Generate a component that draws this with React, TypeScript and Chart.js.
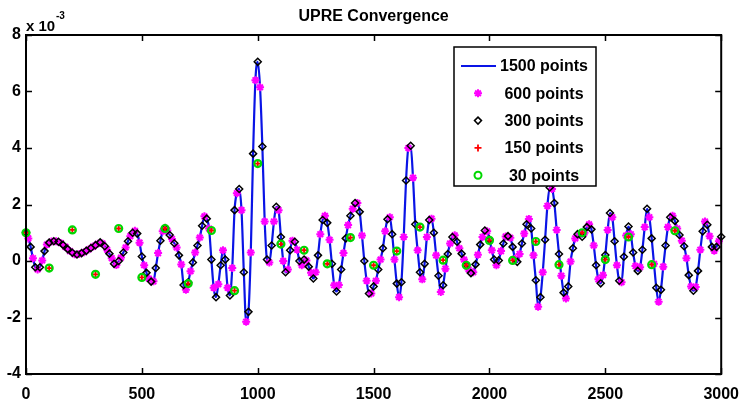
import React, { useEffect, useRef } from "react";
import { Chart, registerables } from "chart.js";

Chart.register(...registerables);

// ---------- data ----------
const TITLE = "UPRE Convergence";
const SERIES_LABELS = ["1500 points", "600 points", "300 points", "150 points", "30 points"];
const X_TICKS = [0, 500, 1000, 1500, 2000, 2500, 3000];
const Y_TICKS = [-4, -2, 0, 2, 4, 6, 8];
const Y_EXP = "-3";

// fine reconstruction, sampled every 10 units on 0..3000 (values x 1e-3)
const FINE_STEP = 10;
const fineY = [
  1.0, 0.8, 0.5, 0.1, -0.22, -0.3, -0.22, 0.02, 0.35, 0.58,
  0.65, 0.69, 0.7, 0.7, 0.68, 0.64, 0.57, 0.5, 0.42, 0.35,
  0.29, 0.24, 0.23, 0.25, 0.28, 0.31, 0.36, 0.41, 0.46, 0.51,
  0.56, 0.61, 0.66, 0.62, 0.52, 0.4, 0.26, 0.1, -0.1, -0.14,
  0.0, 0.12, 0.3, 0.48, 0.7, 0.88, 1.0, 1.07, 0.97, 0.65,
  0.16, -0.15, -0.42, -0.62, -0.73, -0.72, -0.25, 0.28, 0.72, 1.05,
  1.17, 1.08, 0.92, 0.78, 0.63, 0.48, 0.2, -0.12, -0.85, -1.02,
  -0.75, -0.36, -0.05, 0.3, 0.55, 0.83, 1.25, 1.58, 1.5, 1.15,
  0.05, -0.95, -1.28, -0.82, -0.15, 0.38, 0.05, -0.95, -1.22, -0.25,
  1.8, 2.4, 2.55, 1.8, -0.4, -2.15, -1.8, 0.3, 3.8, 6.4,
  7.05, 6.15, 4.05, 1.4, 0.05, -0.05, 0.55, 1.4, 1.92, 1.8,
  0.85, 0.0, -0.4, -0.3, 0.38, 0.72, 0.68, 0.4, 0.0, -0.15,
  0.05, 0.02, -0.2, -0.42, -0.62, -0.4, 0.2, 0.95, 1.45, 1.6,
  1.35, 0.75, -0.1, -0.86, -1.08, -0.85, -0.3, 0.28, 0.8, 1.27,
  1.6, 1.85, 2.05, 2.05, 1.74, 0.9, 0.0, -0.7, -1.15, -1.15,
  -0.9, -0.7, -0.3, 0.05, 0.45, 1.05, 1.48, 1.55, 0.95, 0.05,
  -0.8, -1.28, -0.75, 0.85, 2.85, 4.0, 4.08, 2.95, 1.3, 0.38,
  -0.4, -0.65, -0.1, 0.85, 1.45, 1.5, 1.0, 0.2, -0.52, -1.1,
  -0.86, -0.27, 0.25, 0.62, 0.85, 0.91, 0.68, 0.45, 0.26, 0.05,
  -0.14, -0.3, -0.43, -0.4, -0.12, 0.22, 0.58, 0.85, 1.08, 1.05,
  0.76, 0.38, 0.05, -0.15, 0.02, 0.35, 0.62, 0.87, 0.88, 0.82,
  0.5, 0.08, -0.03, 0.25, 0.62, 0.97, 1.3, 1.49, 1.15, 0.2,
  -0.68, -1.62, -1.28, -0.4, 0.75, 1.95, 2.6, 2.55, 2.05, 1.1,
  0.25, -0.52, -1.12, -1.33, -0.9, -0.02, 0.45, 0.8, 0.95, 0.96,
  0.86, 1.0, 1.2, 1.3, 1.12, 0.55, -0.15, -0.65, -0.79, -0.5,
  0.21, 1.1, 1.7, 1.55, 0.7, -0.15, -0.7, -0.75, 0.15, 0.9,
  1.22, 0.95, 0.3, -0.18, -0.35, -0.22, 0.4, 1.2, 1.85, 1.55,
  0.8, -0.1, -0.95, -1.44, -1.02, -0.2, 0.55, 1.2, 1.55, 1.6,
  1.42, 1.15, 0.92, 0.72, 0.52, 0.1, -0.5, -0.9, -1.05, -0.92,
  -0.35, 0.4, 1.05, 1.4, 1.28, 0.88, 0.5, 0.36, 0.5, 0.7,
  0.86,
];

// coarse reconstruction (30-point / 150-point markers)
const coarseX = [
  0, 100, 200, 300, 400, 500, 600, 700, 800, 900,
  1000, 1100, 1200, 1300, 1400, 1500, 1600, 1700, 1800, 1900,
  2000, 2100, 2200, 2300, 2400, 2500, 2600, 2700, 2800,
];
const coarseY = [
  1.0, -0.25, 1.1, -0.47, 1.15, -0.58, 1.15, -0.8, 1.08, -1.05,
  3.45, 0.6, 0.38, -0.1, 0.83, -0.15, 0.35, 1.2, 0.03, -0.15,
  0.73, 0.02, 0.69, -0.13, 1.0, 0.05, 0.85, -0.13, 1.07,
];

// ---------- styling ----------
const FONT = "'Liberation Sans', Arial, Helvetica, sans-serif";
const BLUE = "rgb(10,20,230)";
const MAGENTA = "rgb(255,0,255)";
const BLACK = "#000000";
const RED = "rgb(255,0,0)";
const GREEN = "rgb(0,215,0)";

const finePts = fineY.map((y, i) => ({ x: i * FINE_STEP, y }));
const starPts = finePts.filter((_, i) => i % 2 === 1);
const diamondPts = finePts.filter((_, i) => i % 2 === 0);
const coarsePts = coarseX.map((x, i) => ({ x, y: coarseY[i] }));

function drawMarker(ctx: CanvasRenderingContext2D, kind: string, x: number, y: number) {
  ctx.save();
  if (kind === "star") {
    ctx.strokeStyle = MAGENTA;
    ctx.lineWidth = 2;
    const r = 4;
    ctx.beginPath();
    ctx.moveTo(x - r, y); ctx.lineTo(x + r, y);
    ctx.moveTo(x, y - r); ctx.lineTo(x, y + r);
    const d = r * 0.707;
    ctx.moveTo(x - d, y - d); ctx.lineTo(x + d, y + d);
    ctx.moveTo(x - d, y + d); ctx.lineTo(x + d, y - d);
    ctx.stroke();
  } else if (kind === "diamond") {
    ctx.strokeStyle = BLACK;
    ctx.lineWidth = 1.5;
    const r = 3.5;
    ctx.beginPath();
    ctx.moveTo(x, y - r); ctx.lineTo(x + r, y); ctx.lineTo(x, y + r); ctx.lineTo(x - r, y);
    ctx.closePath();
    ctx.stroke();
  } else if (kind === "plus") {
    ctx.strokeStyle = RED;
    ctx.lineWidth = 1.8;
    const r = 3.5;
    ctx.beginPath();
    ctx.moveTo(x - r, y); ctx.lineTo(x + r, y);
    ctx.moveTo(x, y - r); ctx.lineTo(x, y + r);
    ctx.stroke();
  } else if (kind === "circle") {
    ctx.strokeStyle = GREEN;
    ctx.lineWidth = 2;
    ctx.beginPath();
    ctx.arc(x, y, 3.5, 0, Math.PI * 2);
    ctx.stroke();
  }
  ctx.restore();
}

const decorPlugin = {
  id: "matlabDecor",
  afterDatasetsDraw(chart: any) {
    const { ctx, chartArea: a, scales } = chart;
    ctx.save();
    // axes box
    ctx.strokeStyle = BLACK;
    ctx.lineWidth = 2;
    ctx.strokeRect(a.left, a.top, a.right - a.left, a.bottom - a.top);
    // inward tick marks
    ctx.lineWidth = 1.5;
    ctx.beginPath();
    for (const v of X_TICKS) {
      const px = Math.round(scales.x.getPixelForValue(v)) + 0.5;
      ctx.moveTo(px, a.top); ctx.lineTo(px, a.top + 6);
      ctx.moveTo(px, a.bottom); ctx.lineTo(px, a.bottom - 6);
    }
    for (const v of Y_TICKS) {
      const py = Math.round(scales.y.getPixelForValue(v)) + 0.5;
      ctx.moveTo(a.left, py); ctx.lineTo(a.left + 6, py);
      ctx.moveTo(a.right, py); ctx.lineTo(a.right - 6, py);
    }
    ctx.stroke();

    // title
    ctx.fillStyle = BLACK;
    ctx.font = `bold 16px ${FONT}`;
    ctx.textAlign = "center";
    ctx.textBaseline = "alphabetic";
    ctx.fillText(TITLE, (a.left + a.right) / 2, 21);

    // exponent label
    ctx.textAlign = "left";
    ctx.font = `bold 15px ${FONT}`;
    ctx.fillText("x 10", a.left, 31);
    ctx.font = `bold 10px ${FONT}`;
    ctx.fillText(Y_EXP, a.left + 30, 19);

    // legend box
    const lx = 454, ly = 47, lw = 142, lh = 139;
    ctx.fillStyle = "#ffffff";
    ctx.fillRect(lx, ly, lw, lh);
    ctx.strokeStyle = BLACK;
    ctx.lineWidth = 1.5;
    ctx.strokeRect(lx, ly, lw, lh);
    const kinds = ["line", "star", "diamond", "plus", "circle"];
    ctx.font = `bold 16px ${FONT}`;
    ctx.textAlign = "center";
    ctx.textBaseline = "middle";
    SERIES_LABELS.forEach((label, i) => {
      const cy = ly + 19 + i * 27.3;
      const k = kinds[i];
      if (k === "line") {
        ctx.strokeStyle = BLUE;
        ctx.lineWidth = 2;
        ctx.beginPath();
        ctx.moveTo(lx + 7, cy); ctx.lineTo(lx + 42, cy);
        ctx.stroke();
      } else {
        drawMarker(ctx, k, lx + 24, cy);
      }
      ctx.fillStyle = BLACK;
      ctx.fillText(label, lx + 90, cy + 1);
    });
    ctx.restore();
  },
};

export default function App() {
  const ref = useRef<HTMLCanvasElement | null>(null);

  useEffect(() => {
    document.body.style.margin = "0";
    const canvas = ref.current;
    if (!canvas) return;
    const tickFont = { family: FONT, size: 16, weight: "bold" as const };
    const chart = new Chart(canvas, {
      type: "line",
      data: {
        datasets: [
          {
            label: SERIES_LABELS[0],
            data: finePts,
            borderColor: BLUE,
            borderWidth: 2.2,
            pointRadius: 0,
            cubicInterpolationMode: "monotone",
            fill: false,
            order: 5,
          },
          {
            label: SERIES_LABELS[1],
            data: starPts,
            showLine: false,
            pointStyle: "star",
            pointRadius: 4,
            pointBorderWidth: 2,
            pointBorderColor: MAGENTA,
            pointBackgroundColor: MAGENTA,
            borderColor: MAGENTA,
            clip: false,
            order: 4,
          },
          {
            label: SERIES_LABELS[2],
            data: diamondPts,
            showLine: false,
            pointStyle: "rectRot",
            pointRadius: 3.5,
            pointBorderWidth: 1.5,
            pointBorderColor: BLACK,
            pointBackgroundColor: "rgba(0,0,0,0)",
            borderColor: BLACK,
            clip: false,
            order: 3,
          },
          {
            label: SERIES_LABELS[3],
            data: coarsePts,
            showLine: false,
            pointStyle: "cross",
            pointRadius: 3,
            pointBorderWidth: 1.8,
            pointBorderColor: RED,
            borderColor: RED,
            clip: false,
            order: 2,
          },
          {
            label: SERIES_LABELS[4],
            data: coarsePts,
            showLine: false,
            pointStyle: "circle",
            pointRadius: 3.5,
            pointBorderWidth: 2.2,
            pointBorderColor: GREEN,
            pointBackgroundColor: "rgba(0,0,0,0)",
            borderColor: GREEN,
            clip: false,
            order: 1,
          },
        ],
      },
      options: {
        responsive: false,
        animation: false,
        devicePixelRatio: 1,
        layout: { padding: { top: 35, right: 20, left: 0, bottom: 0 } },
        plugins: {
          legend: { display: false },
          title: { display: false },
          tooltip: { enabled: false },
        },
        scales: {
          x: {
            type: "linear",
            min: 0,
            max: 3000,
            afterBuildTicks: (s: any) => {
              s.ticks = X_TICKS.map((v) => ({ value: v }));
            },
            afterFit: (s: any) => {
              s.height = 26;
            },
            grid: { display: false, drawTicks: false },
            border: { display: false },
            ticks: {
              font: tickFont,
              color: BLACK,
              padding: 11,
              maxRotation: 0,
              autoSkip: false,
              callback: (v: any) => String(v),
            },
          },
          y: {
            type: "linear",
            min: -4,
            max: 8,
            afterBuildTicks: (s: any) => {
              s.ticks = Y_TICKS.map((v) => ({ value: v }));
            },
            afterFit: (s: any) => {
              s.width = 26;
            },
            grid: { display: false, drawTicks: false },
            border: { display: false },
            ticks: { font: tickFont, color: BLACK, padding: 5, callback: (v: any) => String(v) },
          },
        },
      },
      plugins: [decorPlugin],
    });
    return () => chart.destroy();
  }, []);

  return (
    <div style={{ position: "fixed", left: 0, top: 0, width: 750, height: 400, background: "#fff" }}>
      <canvas ref={ref} width={750} height={400} style={{ display: "block" }} />
    </div>
  );
}
